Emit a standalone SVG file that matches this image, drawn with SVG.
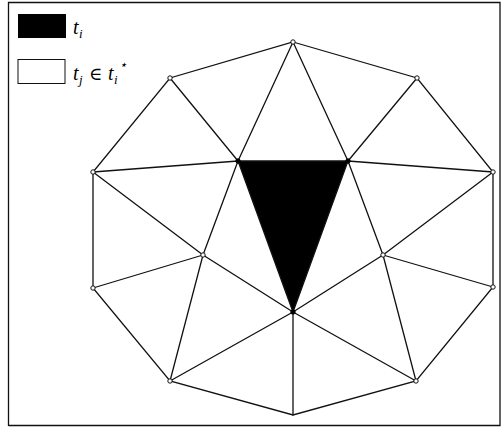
<svg xmlns="http://www.w3.org/2000/svg" width="501" height="428" viewBox="0 0 501 428">
<style>
.e{stroke:#111;stroke-width:1.3;fill:none;stroke-linecap:round}
.o{fill:#fff;stroke:#111;stroke-width:1}
.f{fill:#000;stroke:#000;stroke-width:1}
.t{font-family:"Liberation Serif","DejaVu Serif",serif;font-style:italic;font-size:20px;fill:#000}
.u{font-family:"Liberation Serif","DejaVu Serif",serif;font-style:italic;font-size:13px;fill:#000}
.s{font-family:"DejaVu Serif","Liberation Serif",serif;font-size:18px;fill:#000}
</style>
<rect width="501" height="428" fill="#fff"/>
<path d="M8.5,426 V2.5 H500 V425.5 H8.5" fill="none" stroke="#111" stroke-width="1.3"/>
<g id="legend">
<rect x="18" y="14" width="48" height="24" fill="#000"/>
<text class="t" x="73" y="34">t</text>
<text class="u" x="79" y="38">i</text>
<rect x="18" y="59.5" width="47" height="24" fill="#fff" stroke="#111" stroke-width="1"/>
<text class="t" x="73" y="80">t</text>
<text class="u" x="79" y="84">j</text>
<text class="s" x="89" y="80">∈</text>
<text class="t" x="108" y="80">t</text>
<text class="u" x="114" y="84">i</text>
<text class="u" x="118.5" y="69">⋆</text>
</g>
<g id="ti"><polygon points="238,161 348,161 293,312" fill="#000"/></g>
<g id="connectors">
<polygon class="e" points="293,42 417,78 493,172 493,287 416,381 293,415 170,381 93,288 93,172 170,78"/>
<path class="e" d="M238,161 L348,161 L293,312 Z
M293,42 L238,161 M293,42 L348,161
M170,78 L238,161 M417,78 L348,161
M93,172 L238,161 M493,172 L348,161
M93,172 L203,255 M493,172 L383,255
M238,161 L203,255 M348,161 L383,255
M203,255 L293,312 M383,255 L293,312
M203,255 L93,288 M383,255 L493,287
M203,255 L170,381 M383,255 L416,381
M170,381 L293,312 M416,381 L293,312
M293,312 L293,415"/>
</g>
<g id="n-top"><circle class="o" cx="293" cy="42" r="2.2"/></g>
<g id="n-ur"><circle class="o" cx="417" cy="78" r="2.2"/></g>
<g id="n-r"><circle class="o" cx="493" cy="172" r="2.2"/></g>
<g id="n-lr"><circle class="o" cx="493" cy="287" r="2.2"/></g>
<g id="n-br"><circle class="o" cx="416" cy="381" r="2.2"/></g>
<g id="n-bl"><circle class="o" cx="170" cy="381" r="2.2"/></g>
<g id="n-ll"><circle class="o" cx="93" cy="288" r="2.2"/></g>
<g id="n-l"><circle class="o" cx="93" cy="172" r="2.2"/></g>
<g id="n-ul"><circle class="o" cx="170" cy="78" r="2.2"/></g>
<g id="n-il"><circle class="o" cx="203" cy="255" r="2.2"/></g>
<g id="n-ir"><circle class="o" cx="383" cy="255" r="2.2"/></g>
<g id="n-a"><circle class="f" cx="238" cy="161" r="2.2"/></g>
<g id="n-b"><circle class="f" cx="348" cy="161" r="2.2"/></g>
<g id="n-c"><circle class="f" cx="293" cy="312" r="2.2"/></g>
</svg>
